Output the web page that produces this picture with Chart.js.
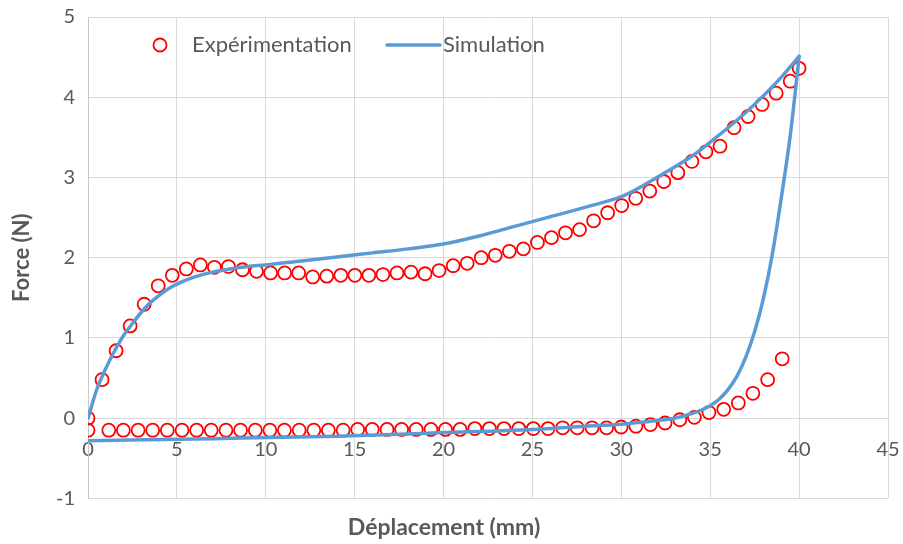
<!DOCTYPE html>
<html><head><meta charset="utf-8">
<script src="https://cdn.jsdelivr.net/npm/chart.js@4/dist/chart.umd.min.js"></script>
<style>html,body{margin:0;padding:0;background:#fff}canvas{display:block}</style>
</head><body>
<canvas id="c" width="903" height="544"></canvas>
<script>
// ---- data ----
const seriesLabels = ['Expérimentation', 'Simulation'];
const xTickValues = [0, 5, 10, 15, 20, 25, 30, 35, 40, 45];
const yTickValues = [-1, 0, 1, 2, 3, 4, 5];

// experimental loading branch
const expLoadX = [0,0.79,1.58,2.37,3.16,3.95,4.74,5.53,6.32,7.11,7.9,8.69,9.48,10.27,11.06,11.85,12.64,13.43,14.22,15.01,15.8,16.59,17.38,18.17,18.96,19.75,20.54,21.33,22.12,22.91,23.7,24.49,25.28,26.07,26.86,27.65,28.44,29.23,30.02,30.81,31.6,32.39,33.18,33.97,34.76,35.55,36.34,37.13,37.92,38.71,39.5,40];
const expLoadY = [0,0.48,0.84,1.15,1.42,1.65,1.78,1.86,1.91,1.88,1.89,1.85,1.83,1.81,1.81,1.81,1.76,1.77,1.78,1.78,1.78,1.79,1.81,1.82,1.80,1.84,1.90,1.93,2.00,2.03,2.08,2.11,2.19,2.25,2.31,2.35,2.46,2.56,2.65,2.74,2.83,2.95,3.06,3.20,3.32,3.39,3.62,3.76,3.91,4.05,4.20,4.36];

// experimental unloading branch
const expUnloadX = [0,1.17,1.99,2.82,3.64,4.46,5.29,6.11,6.93,7.76,8.58,9.41,10.23,11.05,11.88,12.70,13.52,14.35,15.17,15.99,16.82,17.64,18.46,19.29,20.11,20.93,21.76,22.58,23.40,24.23,25.05,25.88,26.70,27.52,28.35,29.17,29.99,30.82,31.64,32.46,33.29,34.11,34.93,35.76,36.58,37.40,38.23,39.05];
const expUnloadY = [-0.15,-0.15,-0.15,-0.15,-0.15,-0.15,-0.15,-0.15,-0.15,-0.15,-0.15,-0.15,-0.15,-0.15,-0.15,-0.15,-0.15,-0.15,-0.14,-0.14,-0.14,-0.14,-0.14,-0.14,-0.14,-0.14,-0.13,-0.13,-0.13,-0.13,-0.13,-0.13,-0.12,-0.12,-0.12,-0.12,-0.11,-0.10,-0.08,-0.06,-0.02,0.01,0.07,0.11,0.19,0.31,0.48,0.74];

// simulation loading branch
const simLoadX = [0,0.5,1,1.5,2,2.5,3,3.5,4,4.5,5,6,7,8,9,10,12,14,16,18,20,22,24,26,28,30,31,32,33,34,35,36,37,38,39,40];
const simLoadY = [0,0.36,0.62,0.84,1.03,1.18,1.32,1.44,1.53,1.61,1.67,1.76,1.82,1.86,1.89,1.91,1.96,2.01,2.06,2.11,2.17,2.27,2.39,2.51,2.63,2.76,2.87,3.00,3.13,3.27,3.44,3.62,3.81,4.02,4.25,4.51];

// simulation unloading branch (listed by increasing displacement)
const simUnloadX = [0,7,14,20,25,28,30,32,33,34,34.5,35,35.5,36,36.5,37,37.5,38,38.5,39,39.5,39.75,40];
const simUnloadY = [-0.28,-0.255,-0.225,-0.18,-0.14,-0.10,-0.075,-0.03,0.0,0.06,0.10,0.155,0.235,0.355,0.52,0.76,1.08,1.50,2.05,2.75,3.52,4.0,4.51];

// ---- styling ----
const FONT = 'Lato, "Noto Sans", sans-serif';
const TEXT = '#595959';
const GRID = '#D9D9D9';
const RED = '#FF0000';
const BLUE = '#5B9BD5';

const pts = (xs, ys) => xs.map((x, i) => ({x: x, y: ys[i]}));

const expStyle = {
  showLine: false, pointStyle: 'circle', pointRadius: 6.5, pointHoverRadius: 6.5,
  pointBorderColor: RED, pointBackgroundColor: 'rgba(0,0,0,0)', pointBorderWidth: 1.8,
  borderColor: RED, backgroundColor: 'rgba(0,0,0,0)', order: 2
};
const simStyle = {
  showLine: true, pointRadius: 0, borderColor: BLUE, backgroundColor: BLUE,
  borderWidth: 3.5, cubicInterpolationMode: 'monotone', borderCapStyle: 'round', borderJoinStyle: 'round', order: 1
};

const insideLegend = {
  id: 'insideLegend',
  afterDraw(chart) {
    const ctx = chart.ctx;
    const y = 45;
    ctx.save();
    ctx.font = '22px ' + FONT;
    ctx.textBaseline = 'middle';
    ctx.textAlign = 'left';
    ctx.fillStyle = TEXT;
    ctx.beginPath();
    ctx.arc(160, y, 6.5, 0, Math.PI * 2);
    ctx.strokeStyle = RED; ctx.lineWidth = 1.8; ctx.stroke();
    ctx.fillText(seriesLabels[0], 192, y);
    ctx.beginPath();
    ctx.moveTo(387, y); ctx.lineTo(440, y);
    ctx.strokeStyle = BLUE; ctx.lineWidth = 3.5; ctx.lineCap = 'round'; ctx.stroke();
    ctx.fillText(seriesLabels[1], 443, y);
    ctx.restore();
  }
};

new Chart(document.getElementById('c'), {
  type: 'scatter',
  data: {
    datasets: [
      Object.assign({label: seriesLabels[0], data: pts(expLoadX, expLoadY)}, expStyle),
      Object.assign({label: seriesLabels[0], data: pts(expUnloadX, expUnloadY)}, expStyle),
      Object.assign({label: seriesLabels[1], data: pts(simLoadX, simLoadY)}, simStyle),
      Object.assign({label: seriesLabels[1], data: pts(simUnloadX, simUnloadY)}, simStyle)
    ]
  },
  options: {
    responsive: false,
    animation: false,
    layout: {padding: {top: 17, right: 15, left: 0, bottom: 0}},
    scales: {
      x: {
        type: 'linear', min: 0, max: 45, position: {y: 0},
        afterBuildTicks: s => { s.ticks = xTickValues.map(v => ({value: v})); },
        afterFit: s => { s.paddingLeft = 0; s.paddingRight = 0; },
        grid: {color: GRID, lineWidth: 1, drawTicks: false},
        border: {color: GRID, width: 1},
        ticks: {font: {family: FONT, size: 20}, color: TEXT, padding: 19, maxRotation: 0, autoSkip: false}
      },
      y: {
        type: 'linear', min: -1, max: 5, position: 'left',
        afterBuildTicks: s => { s.ticks = yTickValues.map(v => ({value: v})); },
        afterFit: s => { s.width = 88; s.paddingTop = 0; s.paddingBottom = 0; },
        grid: {color: GRID, lineWidth: 1, drawTicks: false},
        border: {color: '#C8C8C8', width: 1},
        ticks: {font: {family: FONT, size: 20}, color: TEXT, padding: 13},
        title: {display: true, text: 'Force (N)', font: {family: FONT, size: 22, weight: 'bold'}, color: TEXT, padding: {top: 9, bottom: 0}}
      }
    },
    plugins: {
      legend: {display: false},
      tooltip: {enabled: false},
      title: {display: true, position: 'bottom', text: 'Déplacement (mm)', font: {family: FONT, size: 23, weight: 'bold'}, color: TEXT, padding: {top: 15, bottom: 3}}
    }
  },
  plugins: [insideLegend]
});
</script>
</body></html>
